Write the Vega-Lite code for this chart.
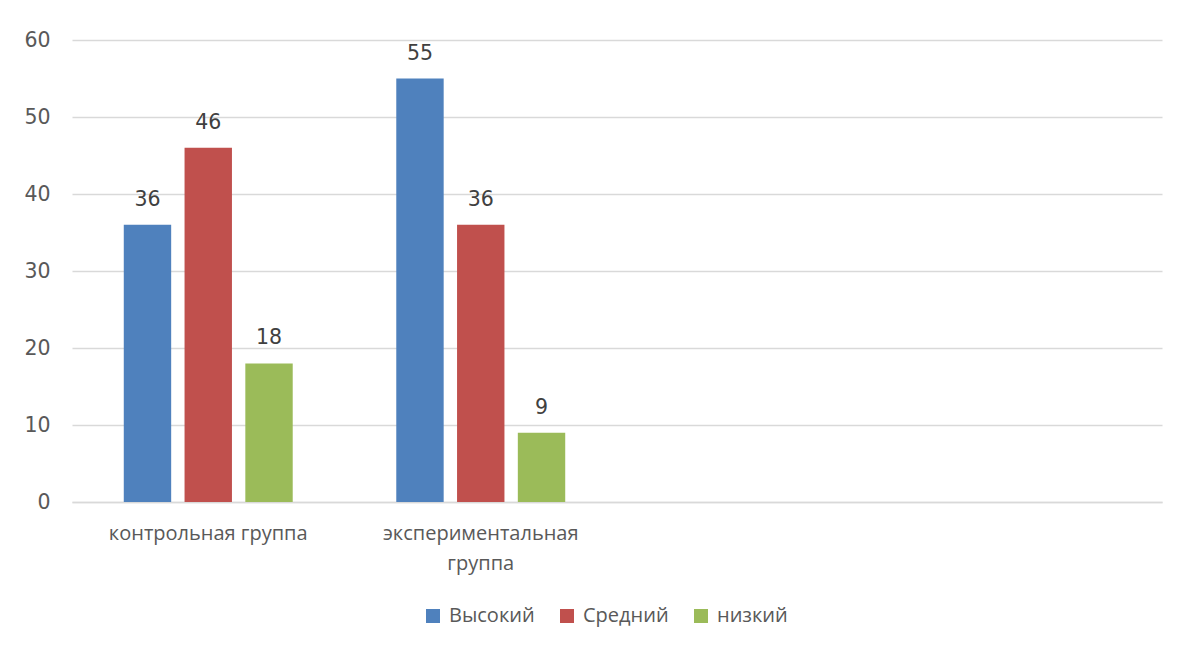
{
  "$schema": "https://vega.github.io/schema/vega-lite/v6.json",
  "width": 1090,
  "height": 462,
  "autosize": {"type": "none"},
  "padding": {"left": 72, "top": 40, "right": 17, "bottom": 146},
  "background": "white",
  "data": {
    "values": [
      {"group": "контрольная группа", "level": "Высокий", "value": 36},
      {"group": "контрольная группа", "level": "Средний", "value": 46},
      {"group": "контрольная группа", "level": "низкий", "value": 18},
      {"group": "экспериментальная группа", "level": "Высокий", "value": 55},
      {"group": "экспериментальная группа", "level": "Средний", "value": 36},
      {"group": "экспериментальная группа", "level": "низкий", "value": 9}
    ]
  },
  "encoding": {
    "x": {
      "field": "group",
      "type": "nominal",
      "sort": null,
      "scale": {
        "domain": ["контрольная группа", "экспериментальная группа", " ", "  "],
        "paddingInner": 0.38,
        "paddingOuter": 0.19
      },
      "axis": {
        "title": null,
        "labelAngle": 0,
        "ticks": false,
        "domain": true,
        "domainColor": "#d9d9d9",
        "domainWidth": 1.5,
        "grid": false,
        "labelPadding": 21,
        "labelFontSize": 20,
        "labelLimit": 0,
        "labelLineHeight": 30,
        "labelBaseline": "top",
        "labelExpr": "length(datum.value) > 20 ? split(datum.value, ' ') : datum.value"
      }
    },
    "xOffset": {
      "field": "level",
      "type": "nominal",
      "sort": ["Высокий", "Средний", "низкий"],
      "scale": {"paddingInner": 0.22}
    },
    "y": {
      "field": "value",
      "type": "quantitative",
      "scale": {"domain": [0, 60]},
      "axis": {
        "title": null,
        "values": [0, 10, 20, 30, 40, 50, 60],
        "ticks": false,
        "domain": false,
        "grid": true,
        "gridColor": "#d9d9d9",
        "gridWidth": 1.5,
        "labelPadding": 22,
        "labelFontSize": 20.5,
        "labelFont": "DejaVu Sans"
      }
    }
  },
  "layer": [
    {
      "mark": {"type": "bar"},
      "encoding": {
        "color": {
          "field": "level",
          "type": "nominal",
          "sort": ["Высокий", "Средний", "низкий"],
          "scale": {
            "domain": ["Высокий", "Средний", "низкий"],
            "range": ["#4f81bd", "#c0504d", "#9bbb59"]
          },
          "legend": {
            "title": null,
            "orient": "none",
            "direction": "horizontal",
            "legendX": 351,
            "legendY": 566,
            "symbolType": "square",
            "symbolSize": 196,
            "symbolStrokeWidth": 0,
            "labelFontSize": 20,
            "labelOffset": 6,
            "columnPadding": 22
          }
        }
      }
    },
    {
      "mark": {"type": "text", "baseline": "bottom", "dy": -15, "fontSize": 20.5, "color": "#404040", "font": "DejaVu Sans"},
      "encoding": {
        "text": {"field": "value", "type": "quantitative"}
      }
    }
  ],
  "config": {
    "font": "Open Sans",
    "view": {"stroke": null},
    "axis": {"labelColor": "#595959", "labelFont": "Open Sans"},
    "legend": {"labelColor": "#595959", "labelFont": "Open Sans"}
  }
}
